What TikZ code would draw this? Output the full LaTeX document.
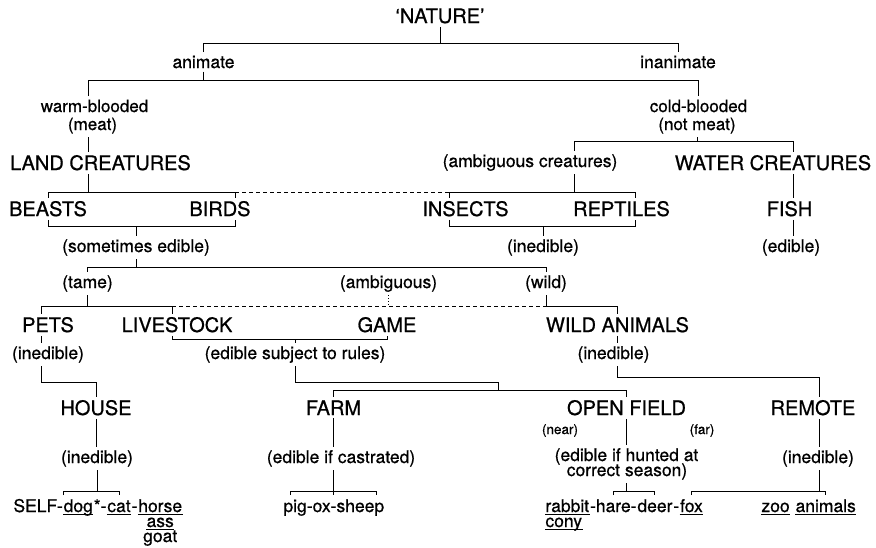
\documentclass[tikz,border=0pt]{standalone}
\usepackage{fontspec}
\setmainfont{TeX Gyre Heros}[FakeBold=0.7]

\begin{document}
\begin{tikzpicture}[x=1pt,y=-1pt,line width=0.9pt,
    every node/.style={anchor=base,inner sep=3pt},
    bigtxt/.style={font=\fontsize{20}{24}\selectfont},
    midtxt/.style={font=\fontsize{17.5}{20}\selectfont},
    smltxt/.style={font=\fontsize{17}{19}\selectfont},
    notetxt/.style={font=\fontsize{13.5}{16}\selectfont},
    wordtxt/.style={font=\fontsize{17.5}{20}\selectfont,inner sep=0pt,anchor=base west},
    dashline/.style={dash pattern=on 4pt off 3pt}]
    \useasboundingbox (0,0) rectangle (876,547);

    \coordinate (r1) at (0,43);
    \coordinate (r2) at (0,80);
    \coordinate (r3) at (0,141);
    \coordinate (r4) at (0,192);
    \coordinate (r5) at (0,226);
    \coordinate (r6) at (0,267);
    \coordinate (r7) at (0,306);
    \coordinate (r8) at (0,339);
    \coordinate (r9) at (0,382);
    \coordinate (r10) at (0,390);
    \coordinate (r11) at (0,377);
    \coordinate (r12) at (0,491);
    \coordinate (spL) at (88,0);
    \coordinate (ambS) at (574,0);
    \coordinate (waterS) at (793,0);
    \coordinate (birdS) at (235,0);
    \coordinate (insS) at (449,0);
    \coordinate (repS) at (635,0);
    \coordinate (petS) at (41,0);
    \coordinate (liveS) at (172,0);
    \coordinate (fieldJ) at (498,0);
    \coordinate (remS) at (819,0);

    \node[bigtxt] (nature) at (440,23) {‘NATURE’};
    \node[midtxt] (animate) at (203.5,68) {animate};
    \node[midtxt] (inanimate) at (678,68) {inanimate};
    \node[smltxt] (warm) at (94.5,112) {warm-blooded};
    \node[smltxt] (meat) at (92.5,130) {(meat)};
    \node[smltxt] (cold) at (698.5,112) {cold-blooded};
    \node[smltxt] (notmeat) at (697,130) {(not meat)};
    \node[bigtxt] (land) at (100.5,170) {LAND CREATURES};
    \node[midtxt] (ambig) at (530,167) {(ambiguous creatures)};
    \node[bigtxt] (water) at (773,170) {WATER CREATURES};

    \node[bigtxt] (beasts) at (48,216) {BEASTS};
    \node[bigtxt] (birds) at (220,216) {BIRDS};
    \node[bigtxt] (insects) at (465.5,216) {INSECTS};
    \node[bigtxt] (reptiles) at (621.5,216) {REPTILES};
    \node[bigtxt] (fish) at (789.5,216) {FISH};
    \node[midtxt] (sometimes) at (136,252) {(sometimes edible)};
    \node[midtxt] (inedA) at (543,252) {(inedible)};
    \node[midtxt] (edible) at (791,252) {(edible)};

    \node[midtxt] (tame) at (87.5,288) {(tame)};
    \node[midtxt] (ambiguous) at (388.5,288) {(ambiguous)};
    \node[midtxt] (wildlab) at (546,288) {(wild)};
    \node[bigtxt] (pets) at (48,332) {PETS};
    \node[bigtxt] (livestock) at (177,332) {LIVESTOCK};
    \node[bigtxt] (game) at (387,332) {GAME};
    \node[bigtxt] (wild) at (617.5,332) {WILD ANIMALS};
    \node[midtxt] (inedP) at (48,359) {(inedible)};
    \node[midtxt] (rules) at (295,359) {(edible subject to rules)};
    \node[midtxt] (inedW) at (613.5,359) {(inedible)};

    \node[bigtxt] (house) at (96,415) {HOUSE};
    \node[bigtxt] (farm) at (333.5,415) {FARM};
    \node[bigtxt] (field) at (626.5,415) {OPEN FIELD};
    \node[bigtxt] (remote) at (813,415) {REMOTE};
    \node[notetxt] (near) at (560,434) {(near)};
    \node[notetxt] (far) at (702,434) {(far)};
    \node[midtxt] (inedH) at (97,463) {(inedible)};
    \node[midtxt] (castr) at (341,463) {(edible if castrated)};
    \node[midtxt] (hunt1) at (626.5,461) {(edible if hunted at};
    \node[midtxt] (hunt2) at (627,476) {correct season)};
    \node[midtxt] (inedR) at (818,463) {(inedible)};

    % the animals themselves
    \node[wordtxt] (self) at (13,512) {SELF-};
    \node[wordtxt] (dog) at (self.base east) {dog};
    \node[wordtxt] (star) at (dog.base east) {*-};
    \node[wordtxt] (cat) at (star.base east) {cat};
    \node[wordtxt] (hyph) at (cat.base east) {-};
    \node[wordtxt] (horse) at (hyph.base east) {horse};
    \node[wordtxt,anchor=base] (ass) at ([yshift=-15pt]horse.base) {ass};
    \node[wordtxt,anchor=base] (goat) at ([yshift=-30pt]horse.base) {goat};
    \node[wordtxt] (pigs) at (283,512) {pig-ox-sheep};
    \coordinate (pigT) at ([xshift=7pt]pigs.base west);
    \coordinate (sheepT) at ([xshift=-8pt]pigs.base east);
    \node[wordtxt] (rabbit) at (545,512) {rabbit};
    \node[wordtxt] (hare) at (rabbit.base east) {-hare-};
    \node[wordtxt] (deer) at (hare.base east) {deer};
    \node[wordtxt] (hyph2) at (deer.base east) {-};
    \node[wordtxt] (fox) at (hyph2.base east) {fox};
    \node[wordtxt] (cony) at ([yshift=-15pt]rabbit.base west) {cony};
    \node[wordtxt] (zoo) at (761,512) {zoo};
    \node[wordtxt] (animals) at ([xshift=5pt]zoo.base east) {animals};
    \foreach \w in {dog,cat,horse,ass,rabbit,cony,fox,zoo,animals}
    \draw[line width=0.8pt] ([yshift=-2.5pt]\w.base west) -- ([yshift=-2.5pt]\w.base east);

    \draw (nature.south) -- (nature.south |- r1);
    \draw (animate.north) |- (inanimate.north |- r1) -- (inanimate.north);
    \draw (animate.south) -- (animate.south |- r2);
    \draw (warm.north -| spL) |- (cold.north |- r2) -- (cold.north);
    \draw (meat.south -| spL) -- (land.north -| spL);
    \draw (notmeat.south) -- (notmeat.south |- r3);
    \draw (ambig.north -| ambS) |- (waterS |- r3) -- (water.north -| waterS);

    \draw (land.south -| spL) -- (spL |- r4);
    \draw (ambig.south -| ambS) -- (ambS |- r4);
    \draw (beasts.north) |- (birdS |- r4) -- (birds.north -| birdS);
    \draw[dashline] (birdS |- r4) -- (insS |- r4);
    \draw (insects.north -| insS) |- (repS |- r4) -- (reptiles.north -| repS);
    \draw (water.south -| waterS) -- (fish.north -| waterS);
    \draw (beasts.south) |- (birdS |- r5) -- (birds.south -| birdS);
    \draw (insects.south -| insS) |- (repS |- r5) -- (reptiles.south -| repS);
    \draw (sometimes.north) -- (sometimes.north |- r5);
    \draw (inedA.north) -- (inedA.north |- r5);
    \draw (fish.south -| waterS) -- (edible.north -| waterS);

    \draw (sometimes.south) -- (sometimes.south |- r6);
    \draw (tame.north) |- (wildlab.north |- r6) -- (wildlab.north);
    \draw (tame.south) -- (tame.south |- r7);
    \draw (pets.north -| petS) |- (liveS |- r7) -- (livestock.north -| liveS);
    \draw[dashline] (liveS |- r7) -- (wildlab.south |- r7);
    \draw[dotted] (ambiguous.south) -- (ambiguous.south |- r7);
    \draw (wildlab.south) -- (wildlab.south |- r7) -| (wild.north);
    \draw (livestock.south -| liveS) |- (game.south |- r8) -- (game.south);
    \draw (rules.north) -- (rules.north |- r8);
    \draw (pets.south -| petS) -- (inedP.north -| petS);
    \draw (wild.south) -- (wild.south |- inedW.north);

    \draw (inedP.south -| petS) |- (house.north |- r9) -- (house.north);
    \draw (rules.south) |- (fieldJ |- r9) -- (fieldJ |- r10);
    \draw (farm.north) |- (field.north |- r10) -- (field.north);
    \draw (wild.south |- inedW.south) |- (remS |- r11) -- (remote.north -| remS);
    \draw (house.south) -- (house.south |- inedH.north);
    \draw (farm.south) -- (farm.south |- castr.north);
    \draw (field.south) -- (field.south |- hunt1.north);
    \draw (remote.south -| remS) -- (remS |- inedR.north);

    \draw (inedH.south) -- (inedH.south |- r12);
    \draw (dog.base west |- r12) ++(0,4) |- (cat.base |- r12) -- ++(0,4);
    \draw (farm.south |- castr.south) -- (farm.south |- r12) -- ++(0,4);
    \draw (pigT |- r12) ++(0,4) |- (sheepT |- r12) -- ++(0,4);
    \draw (field.south |- hunt2.south) -- (field.south |- r12);
    \draw (hare.base |- r12) ++(0,4) |- (deer.base |- r12) -- ++(0,4);
    \draw (inedR.south -| remS) -- (remS |- r12);
    \draw (fox.base |- r12) ++(0,4) |- (animals.base |- r12) -- ++(0,4);
\end{tikzpicture}
\end{document}
